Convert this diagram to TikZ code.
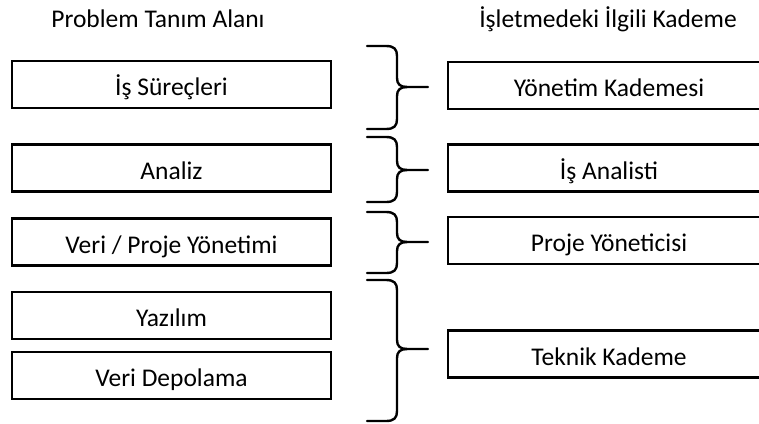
\documentclass[tikz,border=0pt]{standalone}
\usepackage{fontspec}
\setmainfont{Carlito}
\newcommand\mybrace[3]{%
  \draw[brc] (367,#1) -- (386,#1) .. controls (394,#1) and (397,#1+3) .. (397,#1+10)
    -- (397,#2-9) .. controls (397,#2-3) and (400,#2) .. (407,#2) -- (428,#2);
  \draw[brc] (407,#2) .. controls (400,#2) and (397,#2+3) .. (397,#2+9)
    -- (397,#3-10) .. controls (397,#3-3) and (394,#3) .. (386,#3) -- (367,#3);
}
\begin{document}
\begin{tikzpicture}[x=1pt,y=-1pt,
  box/.style={draw, line width=2.4pt, minimum height=47pt, inner sep=0pt,
    text height=22pt, text depth=0pt,
    font=\fontsize{25.5}{30}\selectfont},
  lbox/.style={box, minimum width=319pt},
  rbox/.style={box, minimum width=322pt},
  hdr/.style={font=\fontsize{25.5}{30}\selectfont, inner sep=0pt, anchor=base},
  brc/.style={line width=2.4pt, line cap=round, line join=round}]
\useasboundingbox (0,0) rectangle (759,423);
\clip (0,0) rectangle (759,423);
\node[hdr] (h1) at (158,27) {Problem Tanım Alanı};
\node[hdr] (h2) at (608,27.5) {İşletmedeki İlgili Kademe};
\node[lbox] (isp) at (171.5,84.5) {İş Süreçleri};
\node[lbox] (anl) at (171.5,168) {Analiz};
\node[lbox] (vpy) at (171.5,242) {Veri / Proje Yönetimi};
\node[lbox] (yaz) at (171.5,315.5) {Yazılım};
\node[lbox] (vd) at (171.5,375.5) {Veri Depolama};
\node[rbox] (yk) at (609,85.5) {Yönetim Kademesi};
\node[rbox] (ia) at (609,168) {İş Analisti};
\node[rbox] (py) at (609,240.5) {Proje Yöneticisi};
\node[rbox] (tk) at (609,354) {Teknik Kademe};
\mybrace{46}{87}{129}
\mybrace{137}{170}{202}
\mybrace{212}{242}{273}
\mybrace{280}{349}{421}
\end{tikzpicture}
\end{document}
